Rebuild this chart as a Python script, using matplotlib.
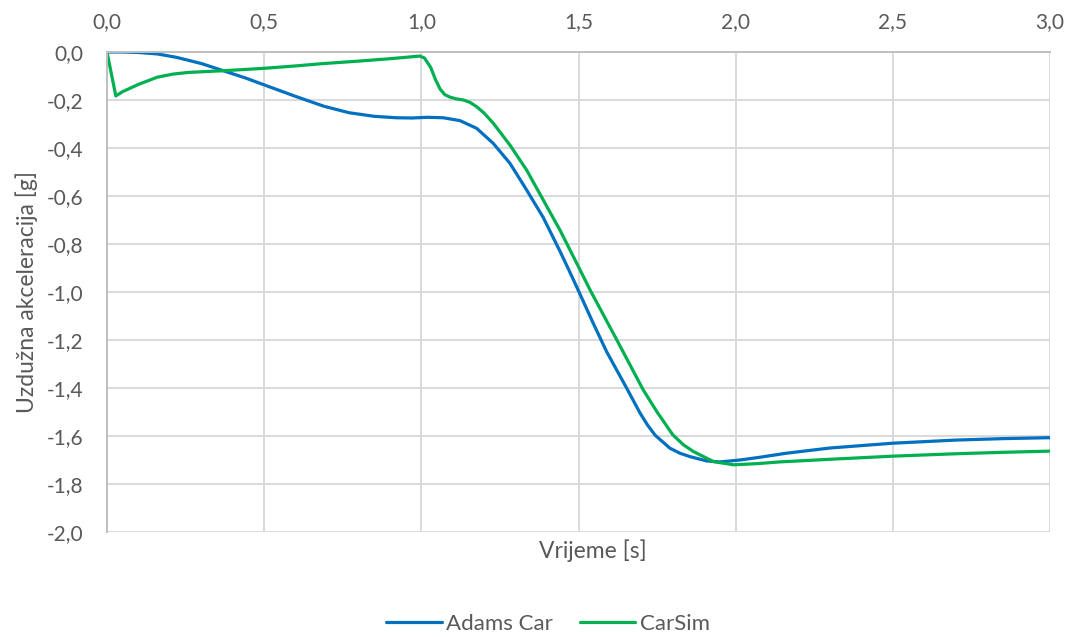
import matplotlib.pyplot as plt
from matplotlib.ticker import FuncFormatter, MultipleLocator

# Vrijeme [s] i uzdužna akceleracija [g], očitano sa slike
t_adams = [0.0, 0.05, 0.10, 0.16, 0.22, 0.30, 0.37, 0.44, 0.50, 0.60, 0.69,
           0.77, 0.85, 0.92, 0.97, 1.02, 1.07, 1.123, 1.176, 1.229, 1.282,
           1.335, 1.388, 1.441, 1.47, 1.50, 1.545, 1.59, 1.653, 1.696, 1.72,
           1.744, 1.791, 1.823, 1.855, 1.908, 1.95, 2.014, 2.08, 2.16, 2.30,
           2.50, 2.70, 2.85, 3.00]
a_adams = [0.0, 0.0, -0.002, -0.008, -0.022, -0.048, -0.078, -0.108, -0.137,
           -0.185, -0.226, -0.253, -0.268, -0.274, -0.275, -0.272, -0.274,
           -0.286, -0.318, -0.381, -0.464, -0.575, -0.690, -0.830, -0.910,
           -0.995, -1.125, -1.250, -1.400, -1.505, -1.555, -1.597, -1.651,
           -1.672, -1.686, -1.704, -1.708, -1.700, -1.688, -1.672, -1.650,
           -1.630, -1.617, -1.611, -1.607]

t_carsim = [0.0, 0.028, 0.05, 0.10, 0.16, 0.21, 0.26, 0.37, 0.50, 0.60, 0.69,
            0.80, 0.90, 0.995, 1.01, 1.03, 1.045, 1.06, 1.075, 1.091, 1.11,
            1.134, 1.155, 1.176, 1.20, 1.229, 1.282, 1.335, 1.388, 1.441,
            1.473, 1.50, 1.537, 1.622, 1.706, 1.75, 1.80, 1.834, 1.866, 1.93,
            1.994, 2.07, 2.14, 2.30, 2.50, 2.70, 2.85, 3.00]
a_carsim = [0.0, -0.183, -0.165, -0.135, -0.105, -0.092, -0.085, -0.078,
            -0.068, -0.058, -0.048, -0.038, -0.028, -0.017, -0.025, -0.065,
            -0.115, -0.155, -0.178, -0.188, -0.195, -0.200, -0.210, -0.228,
            -0.255, -0.297, -0.388, -0.492, -0.617, -0.742, -0.825, -0.895,
            -0.992, -1.20, -1.408, -1.500, -1.595, -1.637, -1.665, -1.707,
            -1.720, -1.715, -1.708, -1.697, -1.684, -1.674, -1.668, -1.663]

plt.rcParams['font.family'] = ['Lato', 'DejaVu Sans']
txt = '#595959'
fs = 15

fig = plt.figure(figsize=(10.76, 6.37), dpi=100)
ax = fig.add_axes([107 / 1076, 1 - 532 / 637, 943 / 1076, 480 / 637])

ax.plot(t_adams, a_adams, color='#0070C0', lw=2.3, label='Adams Car',
        solid_capstyle='round', solid_joinstyle='round')
ax.plot(t_carsim, a_carsim, color='#00B050', lw=2.3, label='CarSim',
        solid_capstyle='round', solid_joinstyle='round')

ax.set_xlim(0, 3)
ax.set_ylim(-2, 0)
ax.xaxis.set_major_locator(MultipleLocator(0.5))
ax.yaxis.set_major_locator(MultipleLocator(0.2))
fmt = FuncFormatter(lambda v, p: f'{v:.1f}'.replace('.', ',').replace('-0,0', '0,0'))
ax.xaxis.set_major_formatter(fmt)
ax.yaxis.set_major_formatter(fmt)
ax.xaxis.tick_top()
ax.tick_params(length=0, labelsize=fs, colors=txt)
ax.tick_params(axis='x', pad=14)
ax.tick_params(axis='y', pad=17)

ax.grid(True, color='#D9D9D9', lw=1.4)
ax.set_axisbelow(True)
for s in ['right', 'bottom']:
    ax.spines[s].set_visible(False)
for s in ['top', 'left']:
    ax.spines[s].set_color('#BFBFBF')
    ax.spines[s].set_linewidth(1.4)

ax.set_ylabel('Uzdužna akceleracija [g]', fontsize=16.5, color=txt)
ax.yaxis.set_label_coords(-0.073, 0.5)
fig.text(593 / 1076, 1 - 551 / 637, 'Vrijeme [s]', fontsize=16.5, color=txt,
         ha='center', va='center')

fig.legend(loc='center', bbox_to_anchor=(548 / 1076, 1 - 624 / 637), ncol=2,
           frameon=False, fontsize=16, labelcolor=txt, handlelength=2.5,
           handletextpad=0.2, columnspacing=1.2)

fig.savefig('out.png', dpi=100)
